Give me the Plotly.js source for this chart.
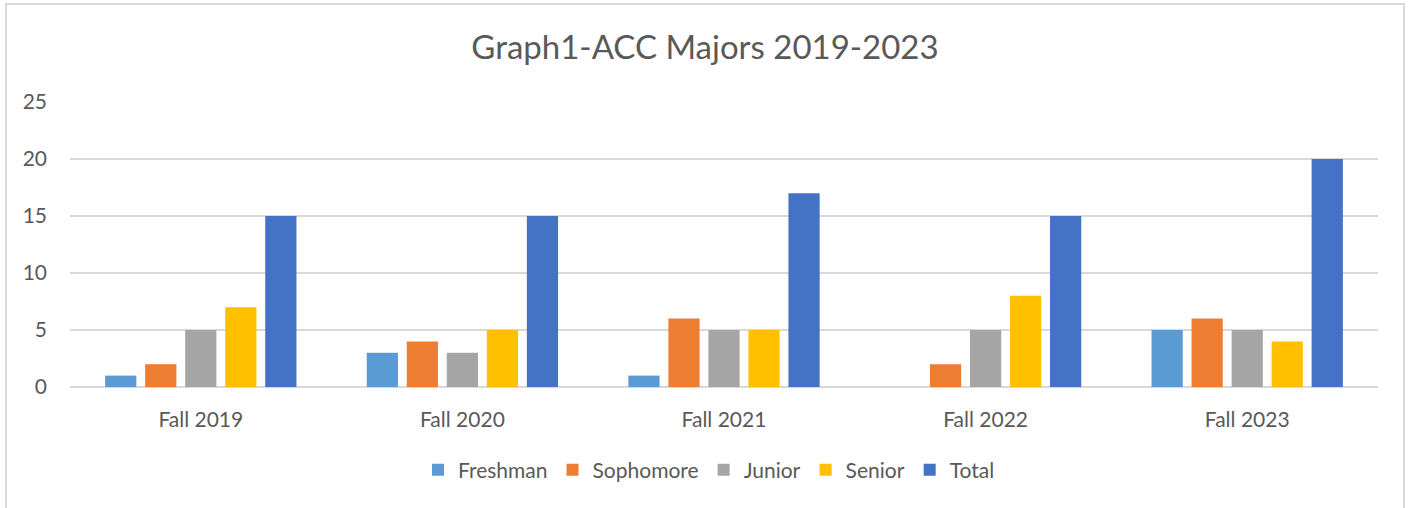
<!DOCTYPE html>
<html><head><meta charset="utf-8">
<script src="https://cdn.plot.ly/plotly-3.0.1.min.js"></script>
<style>
html,body{margin:0;padding:0;background:#fff;}
#wrap{position:relative;width:1410px;height:508px;overflow:hidden;}
#chart{width:1410px;height:508px;}
#border{position:absolute;left:5px;top:3px;width:1400px;height:520px;border:2px solid #d9d9d9;pointer-events:none;box-sizing:border-box;}
</style></head>
<body><div id="wrap"><div id="chart"></div><div id="border"></div></div>
<script>
const categories = ["Fall 2019","Fall 2020","Fall 2021","Fall 2022","Fall 2023"];
const freshman  = [1,3,1,0,5];
const sophomore = [2,4,6,2,6];
const junior    = [5,3,5,5,5];
const senior    = [7,5,5,8,4];
const total     = [15,15,17,15,20];
const seriesNames = ["Freshman","Sophomore","Junior","Senior","Total"];
const colors = ["#5B9BD5","#ED7D31","#A5A5A5","#FFC000","#4472C4"];
const seriesVals = [freshman,sophomore,junior,senior,total];
const font = "Lato, 'Open Sans', sans-serif";
const data = seriesVals.map((v,i)=>({
  type:'bar', x:categories, y:v, name:seriesNames[i],
  marker:{color:colors[i], line:{width:0}},
  hoverinfo:'skip'
}));
const layout = {
  width:1410, height:508,
  margin:{l:70, r:32, t:102, b:121},
  paper_bgcolor:'#fff', plot_bgcolor:'#fff',
  title:{text:"Graph1-ACC Majors 2019-2023", x:0.5, xref:'container', xanchor:'center', y:1-47/508, yref:'container', yanchor:'middle', font:{family:font, size:33, color:'#595959'}},
  barmode:'group', bargap:0.235, bargroupgap:0.22,
  xaxis:{type:'category', showgrid:false, zeroline:false, showline:false, ticks:'', ticklabelstandoff:18, tickfont:{family:font, size:21, color:'#595959'}},
  yaxis:{range:[0,25], dtick:5, showgrid:true, gridcolor:'#d9d9d9', gridwidth:1.5, zeroline:true, zerolinecolor:'#d9d9d9', zerolinewidth:1.5, showline:false, ticks:'', ticklabelstandoff:22, tickfont:{family:font, size:21, color:'#595959'}},
  showlegend:true,
  legend:{orientation:'h', x:(709-70)/1308, xanchor:'center', y:(387-470)/285, yanchor:'middle', font:{family:font, size:21, color:'#595959'}, itemwidth:30, traceorder:'normal'},
};
Plotly.newPlot('chart', data, layout, {displayModeBar:false, staticPlot:true});
</script></body></html>
